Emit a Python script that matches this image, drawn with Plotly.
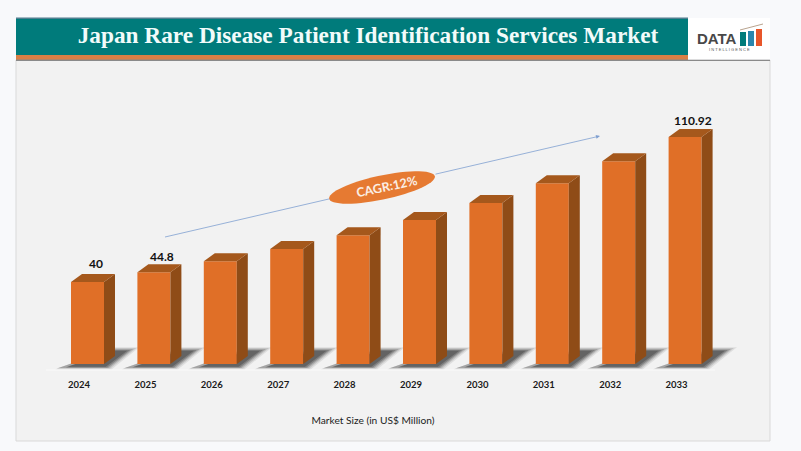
import numpy as np
import plotly.graph_objects as go

years = [2024, 2025, 2026, 2027, 2028, 2029, 2030, 2031, 2032, 2033]
market_size = [40, 44.8, 50.2, 56.2, 62.9, 70.4, 78.7, 88.3, 99.0, 110.92]
shown_labels = {2024: "40", 2025: "44.8", 2033: "110.92"}
label_lift = {2024: 19, 2025: 16, 2033: 16}

W, H = 801, 451
BASE_Y = 364
AXIS_Y = 372
X_STEP = 66.4
Y_STEP = 2.047
FIRST_X = 87.5
BAR_W = 33 / X_STEP
DX = 11 / X_STEP
DY = 8 / Y_STEP

FRONT = "#e06f27"
SIDE = "#8f4c17"
TOP = "#a5581c"


def px(x):
    return x / W


def py(y):
    return 1 - y / H


def rect(x0, y0, x1, y1, fill, line=None):
    return dict(
        type="rect", xref="paper", yref="paper", layer="below",
        x0=px(x0), x1=px(x1), y0=py(y0), y1=py(y1),
        fillcolor=fill, line=dict(color=line or fill, width=1 if line else 0),
    )


def poly(xs, ys, color):
    return go.Scatter(
        x=xs, y=ys, mode="lines", fill="toself", fillcolor=color,
        line=dict(width=0), hoverinfo="skip", showlegend=False,
    )


fig = go.Figure()

# side and top faces come from the same values as the bars
for year, value in zip(years, market_size):
    right = year + BAR_W / 2
    left = year - BAR_W / 2
    fig.add_trace(poly(
        [right, right + DX, right + DX, right, right],
        [0, DY, value + DY, value, 0],
        SIDE,
    ))
    fig.add_trace(poly(
        [left, right, right + DX, left + DX, left],
        [value, value, value + DY, value + DY, value],
        TOP,
    ))

fig.add_trace(go.Bar(
    x=years, y=market_size, width=BAR_W, marker=dict(color=FRONT, line=dict(width=0)),
    showlegend=False, hoverinfo="x+y",
))

shapes = [
    rect(16, 60, 770, 441, "#f2f2f2", "#d9d9d9"),
    rect(16, 18, 688, 56, "#007b7b"),
    rect(16, 17.5, 688, 19, "#4f7f8f"),
    rect(16, 55, 688, 60, "#d97f45"),
    rect(16, 59.5, 770, 61, "#8a8a8a"),
    rect(688, 18, 770, 59.5, "#ffffff"),
    rect(740, 32, 746, 46, "#007b7b"),
    rect(748, 31, 754, 46, "#2a86ad"),
    rect(756, 29, 762, 46, "#e8562a"),
    rect(46, 369.5, 715, 370.5, "#fafafa"),
]

# floor shadows below the bars, stacked so the edges look soft
sx = 1 / X_STEP
sy = 1 / Y_STEP
for year in years:
    for grow, op in [(3, 0.10), (1.5, 0.15), (0, 0.22), (-1.5, 0.30), (-3, 0.36)]:
        xs = [
            year - 0.44 - grow * sx + (6 * sx if grow < 0 else 0),
            year + 0.32 + grow * sx,
            year + 0.69 + 2 * grow * sx,
            year + 0.41,
        ]
        bottom = -(4 + grow * 0.4) * sy
        top = (15 + grow * 0.6) * sy
        ys = [bottom, bottom, top, top]
        path = "M " + " L ".join(f"{a},{b}" for a, b in zip(xs, ys)) + " Z"
        shapes.append(dict(
            type="path", path=path, xref="x", yref="y", layer="below",
            fillcolor="#303030", opacity=op, line=dict(width=0),
        ))

# CAGR ellipse, tilted along the arrow
theta = np.linspace(0, 2 * np.pi, 60)
tilt = np.radians(-12)
ex = 382 + 54 * np.cos(theta) * np.cos(tilt) - 12 * np.sin(theta) * np.sin(tilt)
ey = 187.5 + 54 * np.cos(theta) * np.sin(tilt) + 12 * np.sin(theta) * np.cos(tilt)
ellipse = "M " + " L ".join(f"{px(a):.5f},{py(b):.5f}" for a, b in zip(ex, ey)) + " Z"

shapes += [
    dict(
        type="line", xref="paper", yref="paper",
        x0=px(165), y0=py(237), x1=px(331), y1=py(198.5),
        line=dict(color="#7f9fd0", width=0.8),
    ),
    dict(type="path", path=ellipse, xref="paper", yref="paper", fillcolor="#e67a32", line=dict(width=0)),
    dict(
        type="line", xref="paper", yref="paper",
        x0=px(740), y0=py(30), x1=px(763), y1=py(24),
        line=dict(color="#b9a48f", width=1),
    ),
]

annotations = [
    dict(
        x=px(600), y=py(136), ax=434 - 600, ay=174.5 - 136, xref="paper", yref="paper",
        axref="pixel", ayref="pixel", text="", showarrow=True,
        arrowhead=2, arrowsize=1, arrowwidth=0.8, arrowcolor="#7f9fd0",
    ),
    dict(
        x=px(387), y=py(187), xref="paper", yref="paper", text="<b>CAGR:12%</b>",
        xanchor="center", yanchor="middle",
        showarrow=False, textangle=-12, font=dict(family="Lato", size=12.5, color="#fbeee4"),
    ),
    dict(
        x=px(717), y=py(38.5), xref="paper", yref="paper", text="<b>DATA</b>",
        xanchor="center", yanchor="middle",
        showarrow=False, font=dict(family="Liberation Sans", size=15, color="#484848"),
    ),
    dict(
        x=px(729), y=py(50), xref="paper", yref="paper", text="I N T E L L I G E N C E",
        xanchor="center", yanchor="middle",
        showarrow=False, font=dict(family="Liberation Sans", size=4, color="#555555"),
    ),
]
for year, value in zip(years, market_size):
    if year in shown_labels:
        annotations.append(dict(
            x=year, y=value, text=f"<b>{shown_labels[year]}</b>", showarrow=False,
            xanchor="center", yanchor="middle",
            xshift=8, yshift=label_lift[year], font=dict(family="Lato", size=12, color="#111111"),
        ))

fig.update_layout(
    width=W, height=H, autosize=False,
    margin=dict(l=0, r=0, t=0, b=0),
    paper_bgcolor="#f8f9fb",
    plot_bgcolor="rgba(0,0,0,0)",
    showlegend=False,
    title=dict(
        text="<b>Japan Rare Disease Patient Identification Services Market</b>",
        x=368 / W, xanchor="center", y=py(35), yanchor="middle",
        font=dict(family="Liberation Serif", size=23.3, color="#f2fbfa"),
    ),
    xaxis=dict(
        range=[2024 - FIRST_X / X_STEP, 2024 + (746 - FIRST_X) / X_STEP],
        domain=[0, 746 / W],
        tickmode="array", tickvals=[y - 8.5 / X_STEP for y in years], ticktext=[str(y) for y in years],
        ticks="outside", ticklen=4, tickcolor="rgba(0,0,0,0)",
        tickfont=dict(family="Lato", size=9.5, color="#1a1a1a", weight="bold"),
        showgrid=False, zeroline=False, showline=False,
        title=dict(
            text="Market Size (in US$ Million)", standoff=27,
            font=dict(family="Lato", size=10.2, color="#222222"),
        ),
    ),
    yaxis=dict(
        range=[-(AXIS_Y - BASE_Y) / Y_STEP, BASE_Y / Y_STEP],
        domain=[(H - AXIS_Y) / H, 1],
        visible=False,
    ),
    shapes=shapes,
    annotations=annotations,
)

fig.write_html(
    "out.html",
    config={"displayModeBar": False},
    post_script="document.body.style.margin='0';",
)
